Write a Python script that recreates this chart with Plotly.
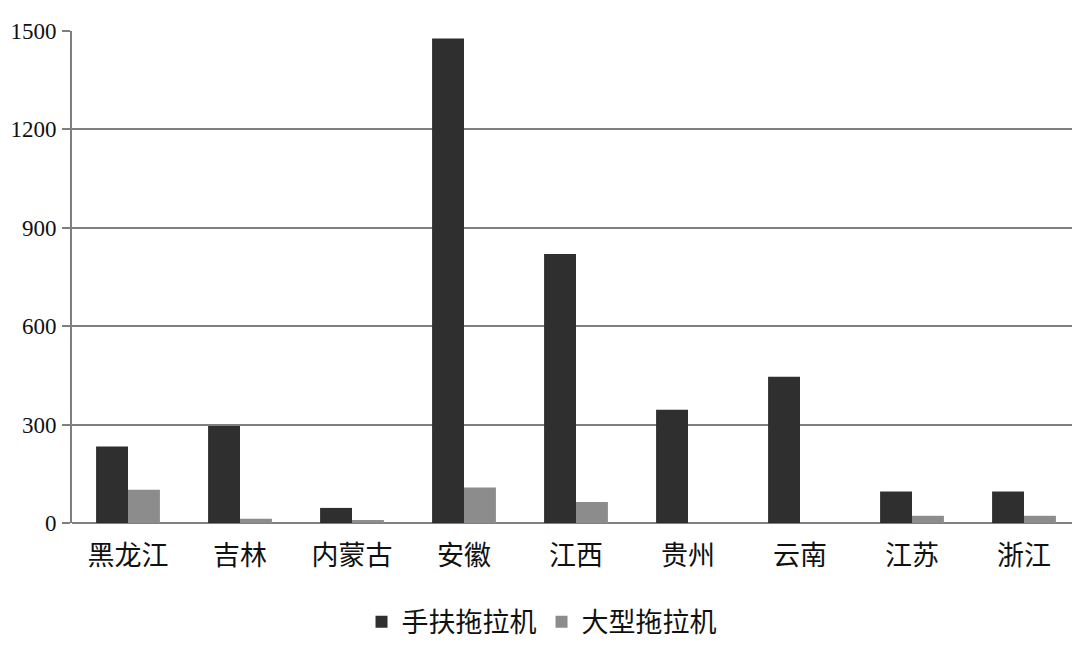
import plotly.graph_objects as go

categories = ["黑龙江", "吉林", "内蒙古", "安徽", "江西", "贵州", "云南", "江苏", "浙江"]
hand_tractor = [233, 296, 46, 1477, 820, 345, 446, 96, 96]
large_tractor = [101, 13, 9, 108, 64, 0, 0, 22, 22]
y_ticks = [0, 300, 600, 900, 1200, 1500]

cjk = "Noto Sans CJK SC"
serif = "Liberation Serif, Times New Roman, serif"

fig = go.Figure()
fig.add_trace(go.Bar(x=categories, y=hand_tractor, name="手扶拖拉机",
                     marker=dict(color="#2f2f2f", line=dict(width=0))))
fig.add_trace(go.Bar(x=categories, y=large_tractor, name="大型拖拉机",
                     marker=dict(color="#8c8c8c", line=dict(width=0))))

fig.update_layout(
    width=1080, height=652,
    margin=dict(l=64, r=8, t=23, b=137, autoexpand=False),
    paper_bgcolor="white", plot_bgcolor="white",
    barmode="group", bargap=0.43, bargroupgap=0,
    showlegend=True,
    legend=dict(orientation="h", xref="container", yref="container",
                x=0.494, xanchor="center", y=0.058, yanchor="middle",
                font=dict(family=cjk, size=27, color="#111"),
                itemwidth=30, tracegroupgap=0),
    xaxis=dict(showgrid=False, showline=False, ticks="", automargin=False,
               tickfont=dict(family=cjk, size=27, color="#111"),
               ticklabelstandoff=14),
    yaxis=dict(range=[0, 1500], tickvals=y_ticks, automargin=False,
               showgrid=True, gridcolor="#7f7f7f", gridwidth=2,
               zeroline=True, zerolinecolor="#7f7f7f", zerolinewidth=2,
               showline=True, linecolor="#7f7f7f", linewidth=2,
               ticks="outside", ticklen=8, tickcolor="#7f7f7f", tickwidth=2,
               ticklabelstandoff=1,
               tickfont=dict(family=serif, size=23, color="#111")),
)

fig.write_html("out.html")
